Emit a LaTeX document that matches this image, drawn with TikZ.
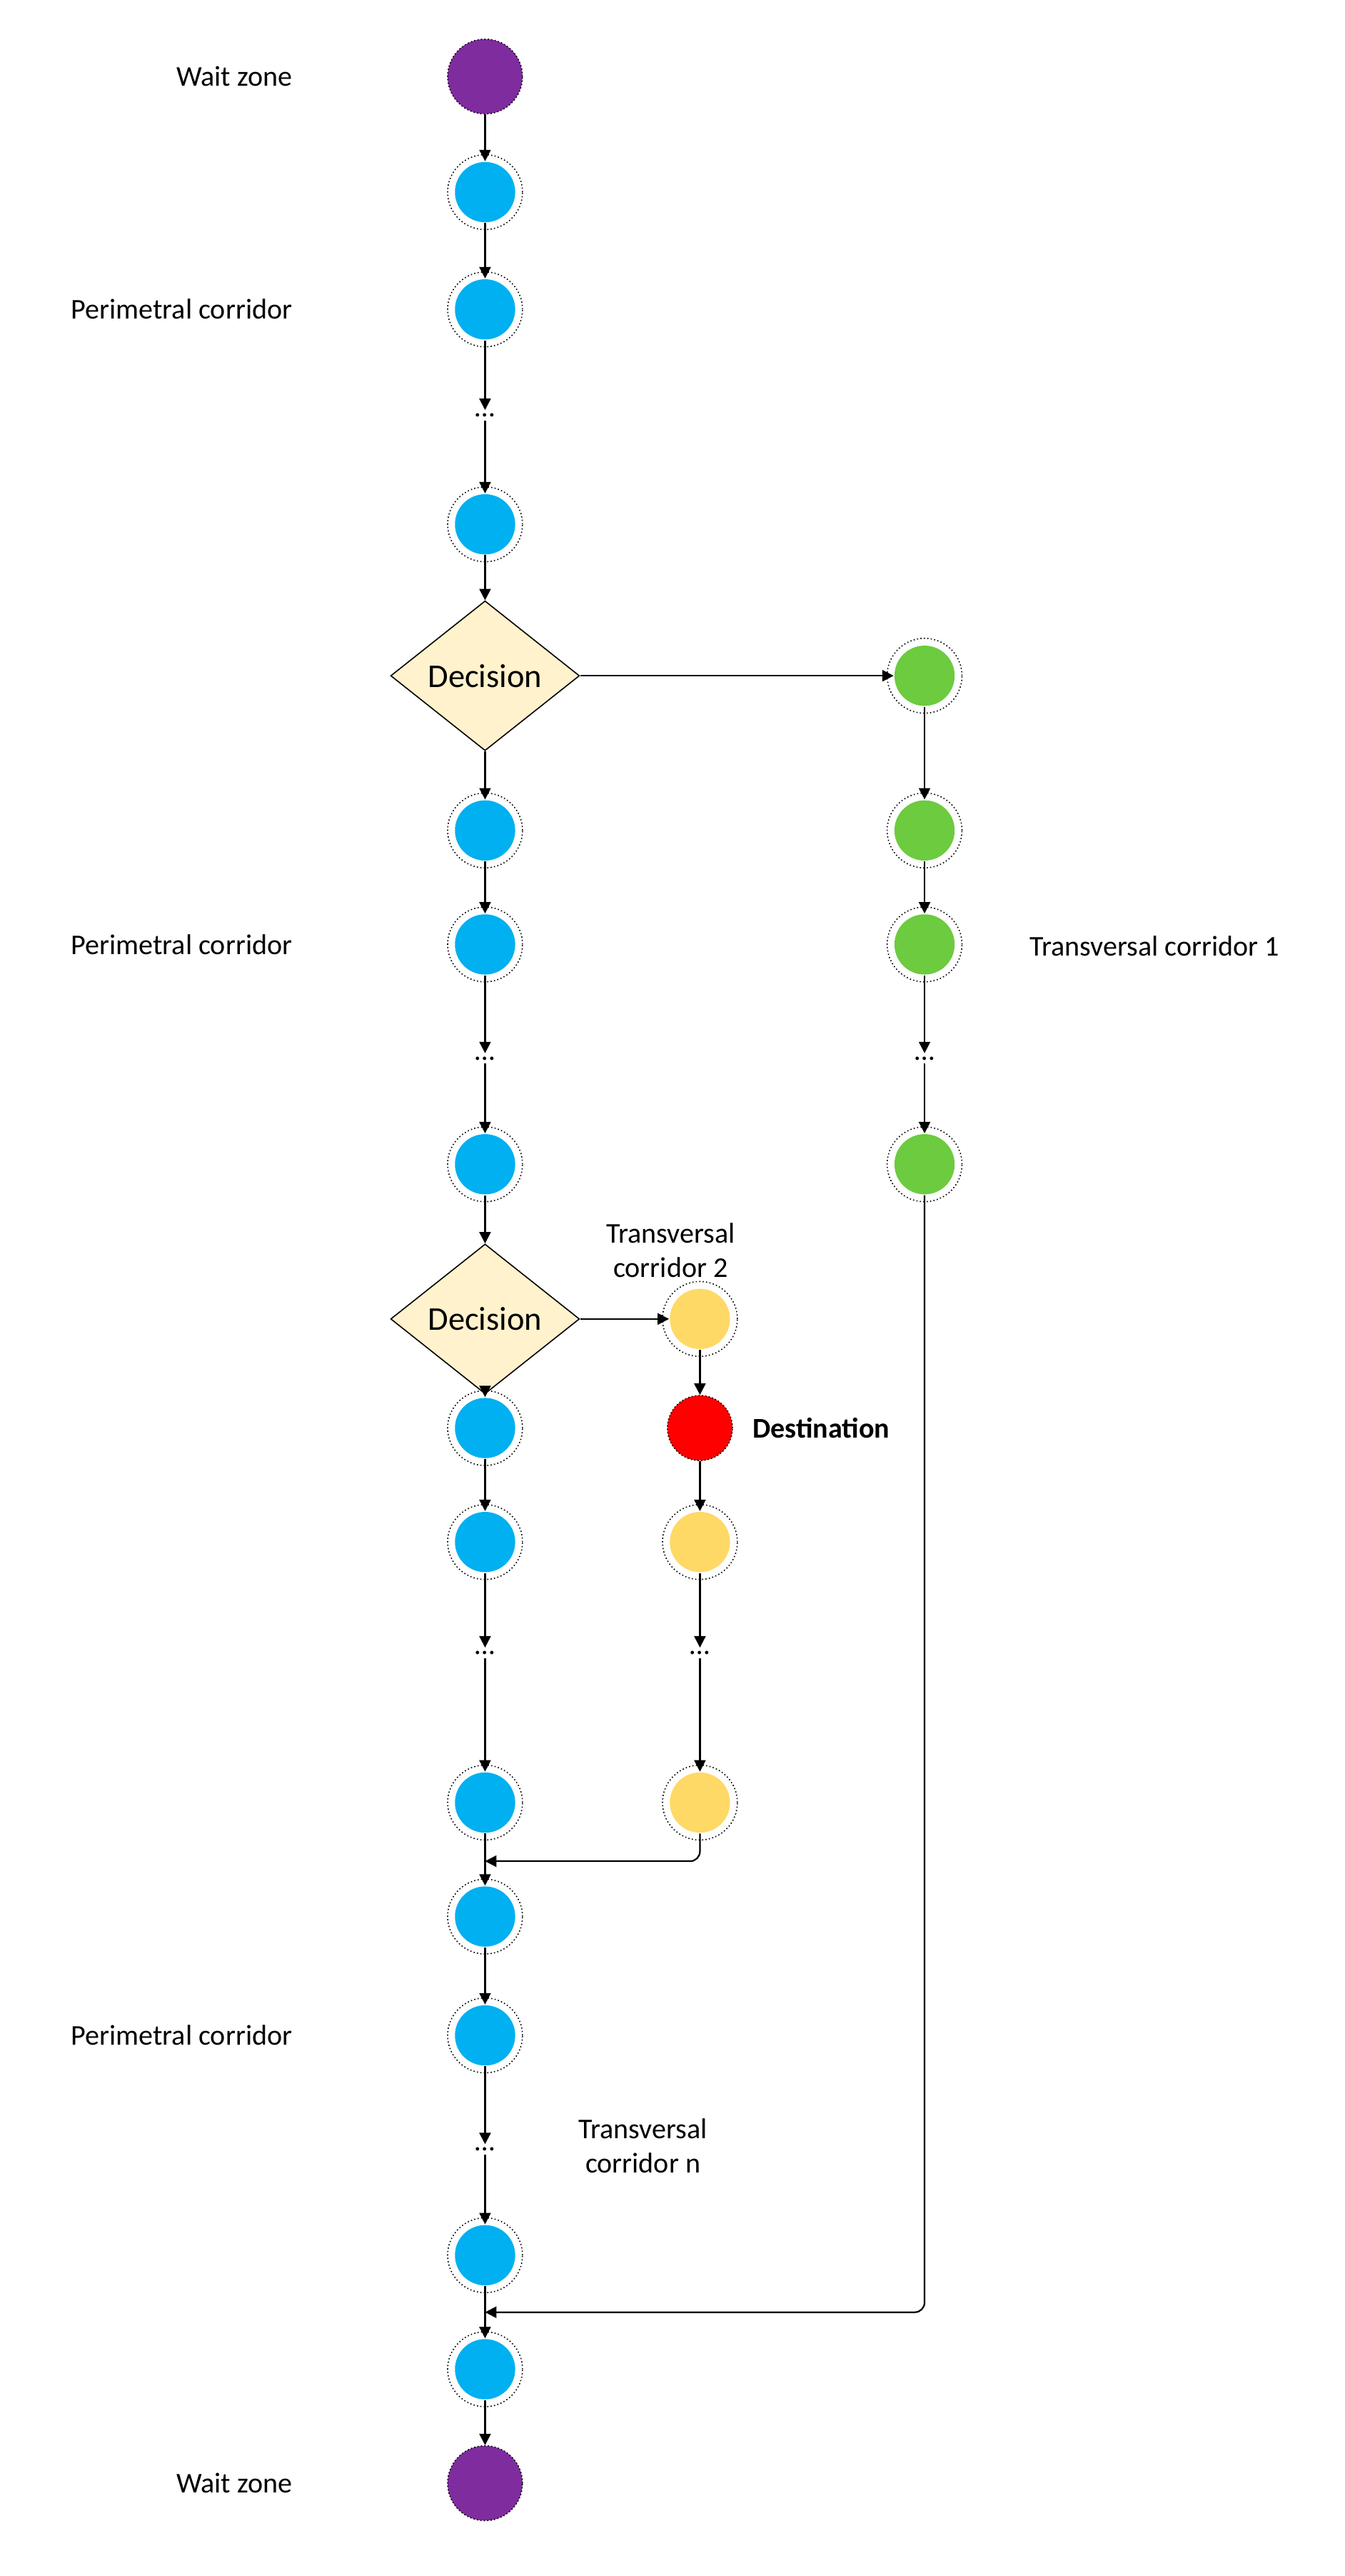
\documentclass[tikz,border=0pt]{standalone}
\usepackage{fontspec}
\setmainfont{Carlito}
\usetikzlibrary{shapes.geometric,arrows.meta}
\definecolor{cpur}{HTML}{7F2C9F}
\definecolor{cblu}{HTML}{00B0F0}
\definecolor{cgrn}{HTML}{6CCB3F}
\definecolor{cyel}{HTML}{FFD966}
\definecolor{cred}{HTML}{FF0000}
\definecolor{cdec}{HTML}{FFF2CC}
\begin{document}
\begin{tikzpicture}[x=0.5mm,y=-0.5mm,
  ring/.style={circle,minimum size=37\pgflinewidth,inner sep=0,draw=none,fill=#1,
    line width=0.5mm,minimum size=18.5mm,
    append after command={\pgfextra{\draw[line width=1pt,dash pattern=on 1pt off 2pt]
      (\tikzlastnode.center) circle[radius=11.5mm];}}},
  solidn/.style={circle,inner sep=0,minimum size=23mm,fill=#1,draw=black,line width=1pt,dash pattern=on 1pt off 2pt},
  dec/.style={diamond,draw,fill=cdec,line width=1pt,minimum width=58mm,minimum height=46mm,inner sep=0,aspect=1.26,font=\fontsize{29}{34}\selectfont},
  dots/.style={inner sep=1mm,font=\fontsize{25}{30}\selectfont},
  lbl/.style={font=\fontsize{25}{30}\selectfont},
  arr/.style={-{Triangle[length=3.5mm,width=3.5mm]},line width=1.4pt},
]
\useasboundingbox (0,0) rectangle (826,1582);
% main column
\node[solidn=cpur] (m1) at (298,47) {};
\node[ring=cblu] (m2) at (298,118) {};
\node[ring=cblu] (m3) at (298,190) {};
\node[dots] (m4) at (298,255) {…};
\node[ring=cblu] (m5) at (298,322) {};
\node[dec] (d1) at (298,415) {Decision};
\node[ring=cblu] (m6) at (298,510) {};
\node[ring=cblu] (m7) at (298,580) {};
\node[dots] (m8) at (298,650) {…};
\node[ring=cblu] (m9) at (298,715) {};
\node[dec] (d2) at (298,810) {Decision};
\node[ring=cblu] (m10) at (298,877) {};
\node[ring=cblu] (m11) at (298,947) {};
\node[dots] (m12) at (298,1015) {…};
\node[ring=cblu] (m13) at (298,1107) {};
\node[ring=cblu] (m14) at (298,1177) {};
\node[ring=cblu] (m15) at (298,1250) {};
\node[dots] (m16) at (298,1320) {…};
\node[ring=cblu] (m17) at (298,1385) {};
\node[ring=cblu] (m18) at (298,1455) {};
\node[solidn=cpur] (m19) at (298,1525) {};
\foreach \a/\b in {m1/m2,m2/m3,m3/m4,m4/m5,m5/d1,d1/m6,m6/m7,m7/m8,m8/m9,m9/d2,d2/m10,m10/m11,m11/m12,m12/m13,m13/m14,m14/m15,m15/m16,m16/m17,m17/m18,m18/m19}
  \draw[arr] (\a) -- (\b);
% green column
\node[ring=cgrn] (g1) at (568,415) {};
\node[ring=cgrn] (g2) at (568,510) {};
\node[ring=cgrn] (g3) at (568,580) {};
\node[dots] (g4) at (568,650) {…};
\node[ring=cgrn] (g5) at (568,715) {};
\draw[arr] (d1) -- (g1);
\foreach \a/\b in {g1/g2,g2/g3,g3/g4,g4/g5} \draw[arr] (\a) -- (\b);
\coordinate (j1) at (298,1420);
\draw[arr,rounded corners=3mm] (g5) |- (j1);
% yellow column
\node[ring=cyel] (y1) at (430,810) {};
\node[solidn=cred,minimum size=20mm] (y2) at (430,877) {};
\node[ring=cyel] (y3) at (430,947) {};
\node[dots] (y4) at (430,1015) {…};
\node[ring=cyel] (y5) at (430,1107) {};
\draw[arr] (d2) -- (y1);
\foreach \a/\b in {y1/y2,y2/y3,y3/y4,y4/y5} \draw[arr] (\a) -- (\b);
\coordinate (j2) at (298,1143);
\draw[arr,rounded corners=3mm] (y5) |- (j2);
% labels
\node[lbl,anchor=east] (l1) at (182,47) {Wait zone};
\node[lbl,anchor=east] (l2) at (182,190) {Perimetral corridor};
\node[lbl,anchor=east] (l3) at (182,580) {Perimetral corridor};
\node[lbl,anchor=east] (l4) at (182,1250) {Perimetral corridor};
\node[lbl,anchor=east] (l5) at (182,1525) {Wait zone};
\node[lbl,anchor=west] (l6) at (630,581) {Transversal corridor 1};
\node[lbl,align=center] (l7) at (412,768) {Transversal\\corridor 2};
\node[lbl,anchor=west,font=\fontsize{25}{30}\selectfont\bfseries] (l8) at (460,877) {Destination};
\node[lbl,align=center] (l9) at (395,1318) {Transversal\\corridor n};
\end{tikzpicture}
\end{document}
